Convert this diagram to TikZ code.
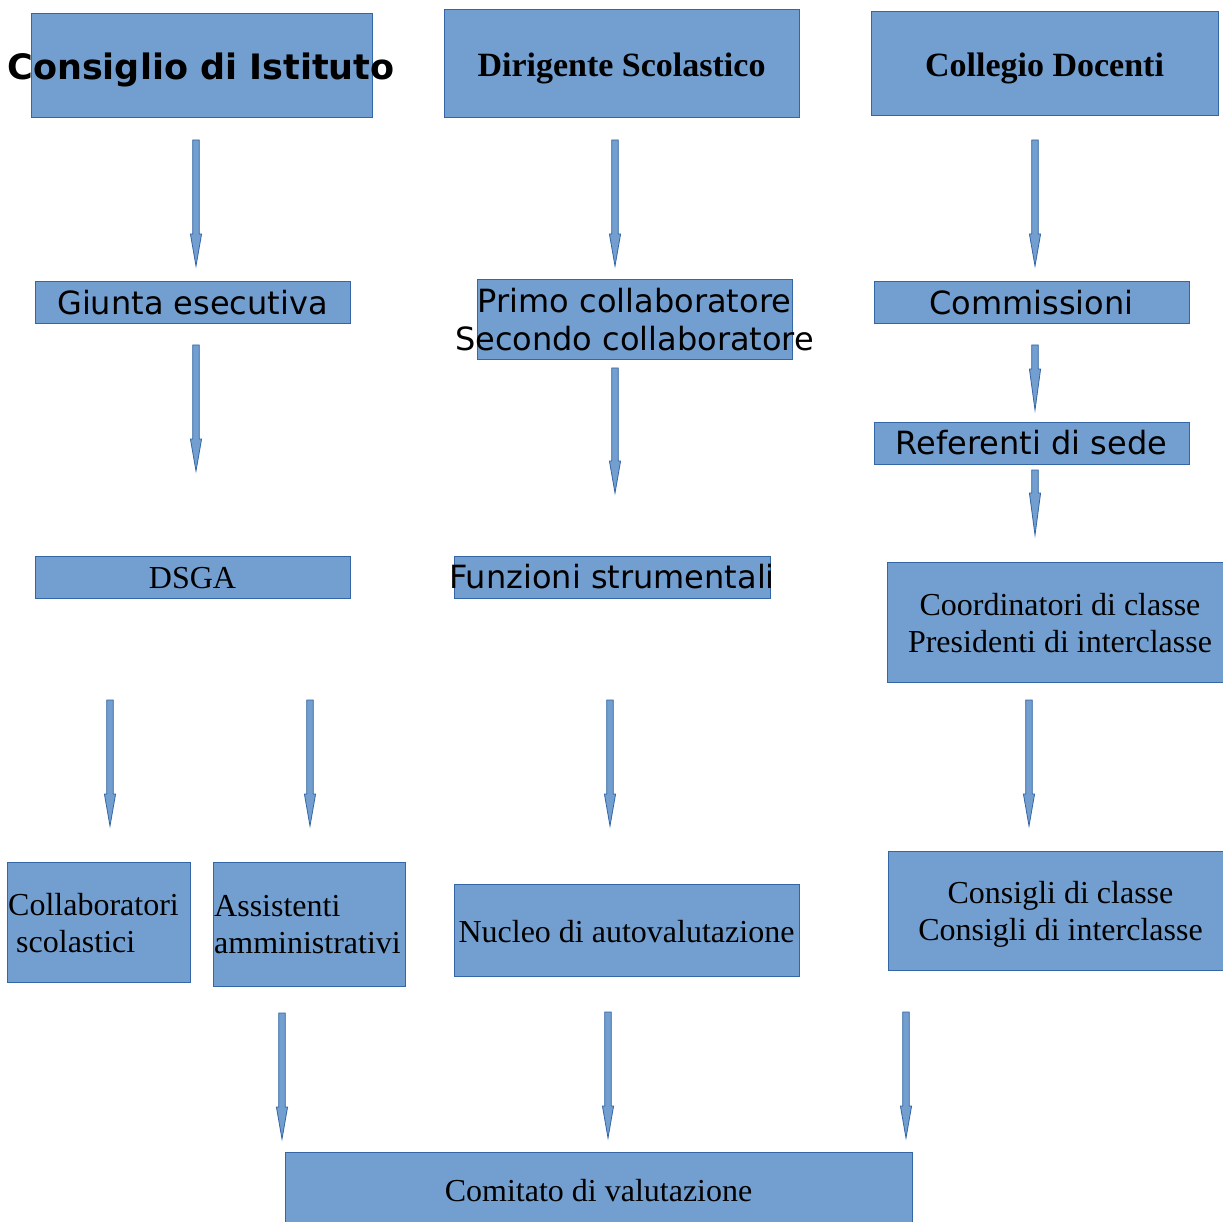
\documentclass[tikz,border=0pt]{standalone}
\usepackage{fontspec}
\setmainfont{Liberation Serif}
\setsansfont{DejaVu Sans}
\usetikzlibrary{calc}
\definecolor{boxfill}{HTML}{729FCF}
\definecolor{boxline}{HTML}{3465A4}
\tikzset{
  box/.style={rectangle,draw=boxline,fill=boxfill,line width=1pt,inner sep=0pt},
  arrowbox/.style={draw=boxline,fill=boxfill,line width=0.8pt,line join=miter},
  sanslabel/.style={font=\sffamily\fontsize{32}{38}\selectfont,align=center,inner sep=0pt},
  sansbold/.style={font=\sffamily\bfseries\fontsize{35}{40}\selectfont,inner sep=0pt},
  seriflabel/.style={font=\fontsize{32}{37}\selectfont,align=center,inner sep=0pt},
  serifbold/.style={font=\bfseries\fontsize{34}{40}\selectfont,inner sep=0pt}
}

\begin{document}
\begin{tikzpicture}[x=1pt,y=-1pt]
  % Configurable parameters
  \def\shaft{3.3}
  \def\head{5.6}
  %
  % Page
  \useasboundingbox (0,0) rectangle (1223,1222);
  %
  % Top row
  \node[box,minimum width=341,minimum height=104] (consiglio) at (201.5,66) {};
  \node[sansbold] (consigliot) at (201,70) {Consiglio di Istituto};
  \node[box,minimum width=355,minimum height=108] (dirigente) at (621.5,64) {};
  \node[serifbold] (dirigentet) at (621.5,68) {Dirigente Scolastico};
  \node[box,minimum width=347,minimum height=104] (collegio) at (1044.5,64) {};
  \node[serifbold] (collegiot) at (1044.5,68) {Collegio Docenti};
  %
  % Second row
  \node[box,minimum width=315,minimum height=42] (giunta) at (192.5,303) {};
  \node[sanslabel] (giuntat) at (giunta) {Giunta esecutiva};
  \node[box,minimum width=315,minimum height=80] (collab) at (634.5,320) {};
  \node[sanslabel] (collabt) at (collab) {Primo collaboratore\\Secondo collaboratore};
  \node[box,minimum width=315,minimum height=42] (commissioni) at (1031.5,303) {};
  \node[sanslabel] (commissionit) at (commissioni) {Commissioni};
  \node[box,minimum width=315,minimum height=42] (referenti) at (1031.5,443) {};
  \node[sanslabel] (referentit) at (referenti) {Referenti di sede};
  %
  % Third row
  \node[box,minimum width=315,minimum height=42] (dsga) at (192.5,577) {};
  \node[seriflabel] (dsgat) at (192.5,578) {DSGA};
  \node[box,minimum width=316,minimum height=42] (funzioni) at (612,577) {};
  \node[sanslabel] (funzionit) at (funzioni) {Funzioni strumentali};
  \node[box,minimum width=346,minimum height=120] (coordinatori) at (1060,622) {};
  \node[seriflabel] (coordinatorit) at (1060,623) {Coordinatori di classe\\Presidenti di interclasse};
  %
  % Fourth row
  \node[box,minimum width=183,minimum height=120] (scolastici) at (98.5,922) {};
  \node[seriflabel,align=left,anchor=west] (scolasticit) at (8,923) {Collaboratori\\\ scolastici};
  \node[box,minimum width=192,minimum height=124] (amministrativi) at (309,924) {};
  \node[seriflabel,align=left,anchor=west] (amministrativit) at (214,925) {Assistenti\\amministrativi};
  \node[box,minimum width=345,minimum height=92] (nucleo) at (626.5,930) {};
  \node[seriflabel] (nucleot) at (626.5,932) {Nucleo di autovalutazione};
  \node[box,minimum width=345,minimum height=119] (consigli) at (1060.5,910.5) {};
  \node[seriflabel] (consiglit) at (1060.5,914.5) {Consigli di classe\\Consigli di interclasse};
  %
  % Bottom row
  \node[box,minimum width=627,minimum height=80] (comitato) at (598.5,1192) {};
  \node[seriflabel] (comitatot) at (598.5,1191) {Comitato di valutazione};
  %
  % Block arrows: number/x/top/tip/head length
  \foreach \n/\cx/\ya/\yb/\hl in {1/196/140/266/32, 2/615/140/266/32, 3/1035/140/266/32,
      4/196/345/471/32, 5/615/368/493/32, 6/1035/345/410/41, 7/1035/470/535/42,
      8/110/700/826/32, 9/310/700/826/32, 10/610/700/826/32, 11/1029/700/826/32,
      12/282/1013/1139/32, 13/608/1012/1138/32, 14/906/1012/1138/32}{
    \coordinate (top\n) at (\cx,\ya);
    \coordinate (tip\n) at (\cx,\yb);
    \draw[arrowbox] ($(top\n)+(-\shaft,0)$) -- ($(top\n)+(\shaft,0)$)
      -- ($(tip\n)+(\shaft,-\hl)$) -- ($(tip\n)+(\head,-\hl)$) -- (tip\n)
      -- ($(tip\n)+(-\head,-\hl)$) -- ($(tip\n)+(-\shaft,-\hl)$) -- cycle;
  }
  %
\end{tikzpicture}
\end{document}
